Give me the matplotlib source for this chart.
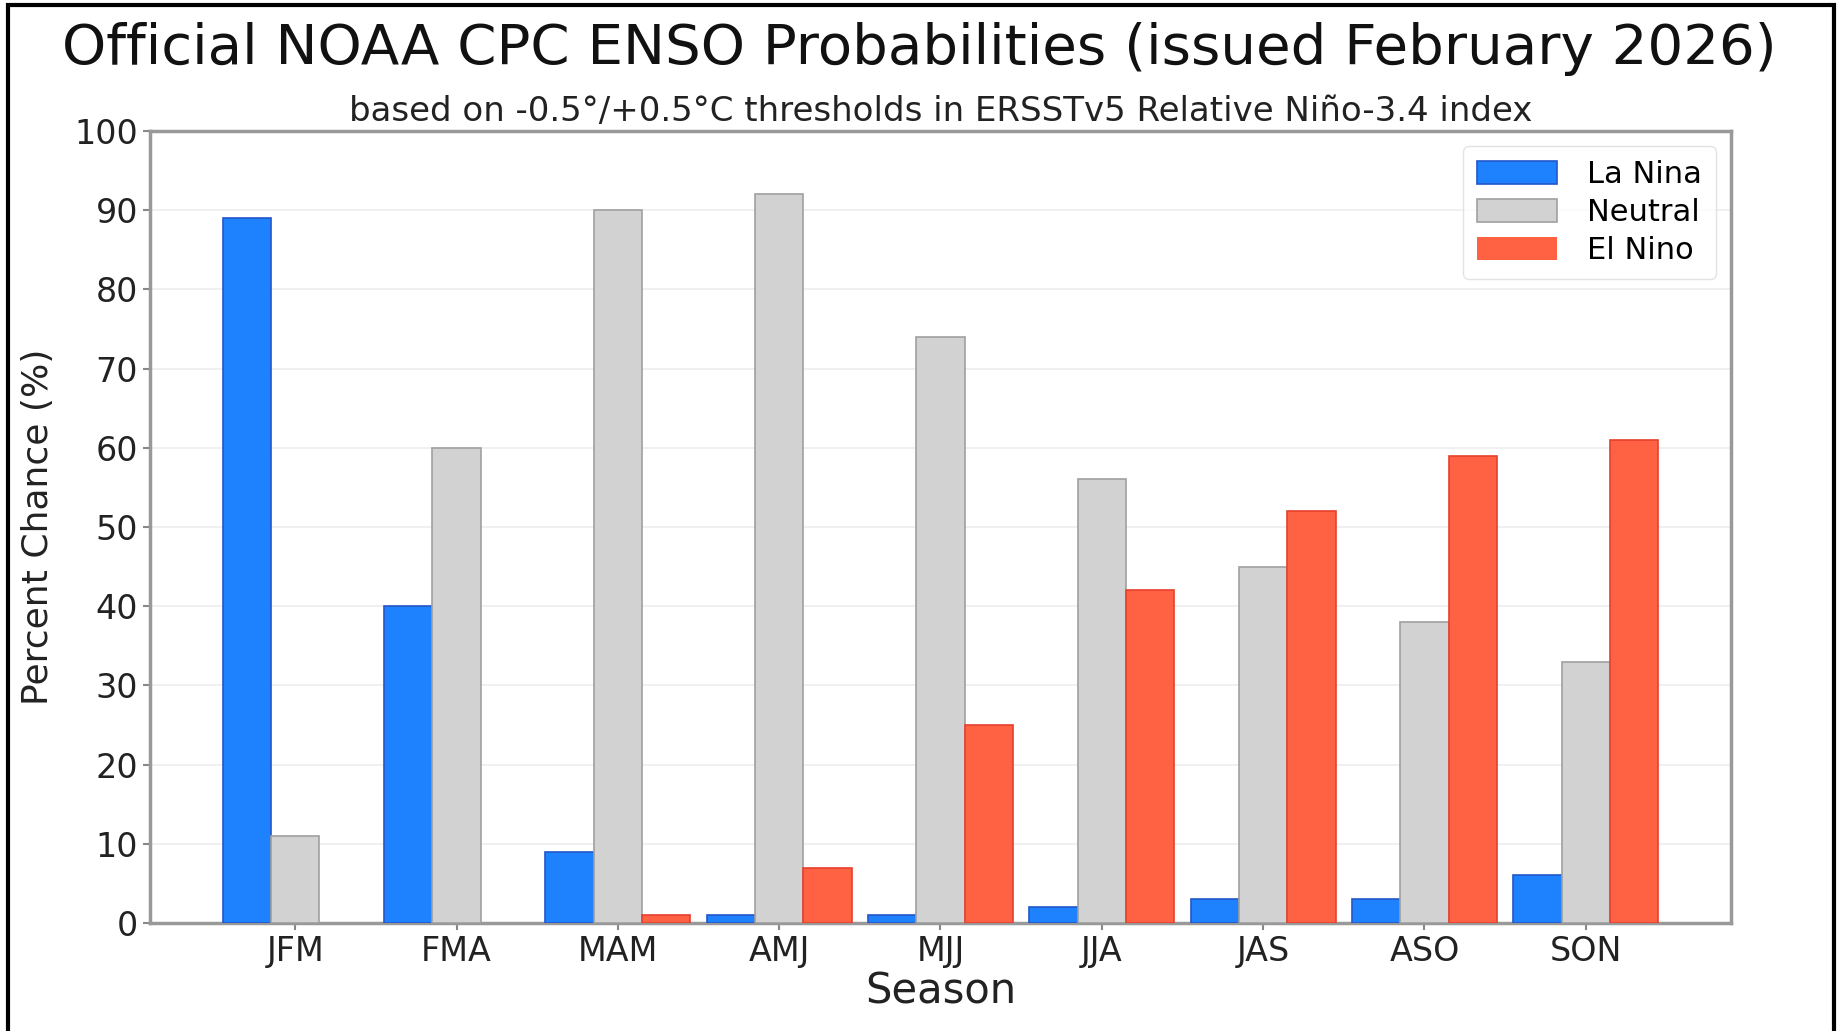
import numpy as np
import matplotlib
matplotlib.use('Agg')
import matplotlib.pyplot as plt
from matplotlib.patches import Rectangle

seasons = ['JFM', 'FMA', 'MAM', 'AMJ', 'MJJ', 'JJA', 'JAS', 'ASO', 'SON']
la_nina = [89, 40, 9, 1, 1, 2, 3, 3, 6]
neutral = [11, 60, 90, 92, 74, 56, 45, 38, 33]
el_nino = [0, 0, 1, 7, 25, 42, 52, 59, 61]

fig = plt.figure(figsize=(18.39, 10.31), dpi=100)
ax = fig.add_axes([150 / 1839, 1 - 923 / 1031, (1731 - 150) / 1839, (923 - 131) / 1031])

x = np.arange(len(seasons))
w = 0.3
# no outline on empty bars
lw_el = [0 if v == 0 else 1.2 for v in el_nino]
ax.bar(x - w, la_nina, w, color='#1e82ff', edgecolor='#2456c8', linewidth=1.2, label='La Nina', zorder=3)
ax.bar(x, neutral, w, color='#d2d2d2', edgecolor='#a0a0a0', linewidth=1.2, label='Neutral', zorder=3)
ax.bar(x + w, el_nino, w, color='#ff6242', edgecolor='#e8402e', linewidth=lw_el, label='El Nino', zorder=3)

ax.set_xlim(-0.9, 8.9)
ax.set_ylim(0, 100)
ax.set_yticks(range(0, 101, 10))
ax.set_xticks(x)
ax.set_xticklabels(seasons)
ax.tick_params(labelsize=24, length=5, width=1.5, colors='#888888', labelcolor='#222222')
ax.grid(axis='y', color='#eeeeee', linewidth=1.2, zorder=0)
for s in ax.spines.values():
    s.set_color('#999999')
    s.set_linewidth(2.5)

ax.set_xlabel('Season', fontsize=30, color='#222222', labelpad=2)
ax.set_ylabel('Percent Chance (%)', fontsize=26, color='#222222', labelpad=14)

fig.text(0.5, 1 - 49 / 1031, 'Official NOAA CPC ENSO Probabilities (issued February 2026)',
         ha='center', va='center', fontsize=40.5, color='#111111')
ax.set_title('based on -0.5\u00b0/+0.5\u00b0C thresholds in ERSSTv5 Relative Ni\u00f1o-3.4 index',
             fontsize=24.5, color='#222222', pad=7)

leg = ax.legend(loc='upper right', fontsize=22, handlelength=2.6, handleheight=0.8,
                borderpad=0.45, labelspacing=0.3, handletextpad=1.0, borderaxespad=0.5)
leg.get_frame().set_edgecolor('#dddddd')

fig.patches.append(Rectangle((8 / 1839, -0.05), (1834 - 8) / 1839, 1.05 - 5 / 1031,
                             transform=fig.transFigure, fill=False, edgecolor='black',
                             linewidth=3, zorder=10))

fig.savefig('out.png', dpi=100)
